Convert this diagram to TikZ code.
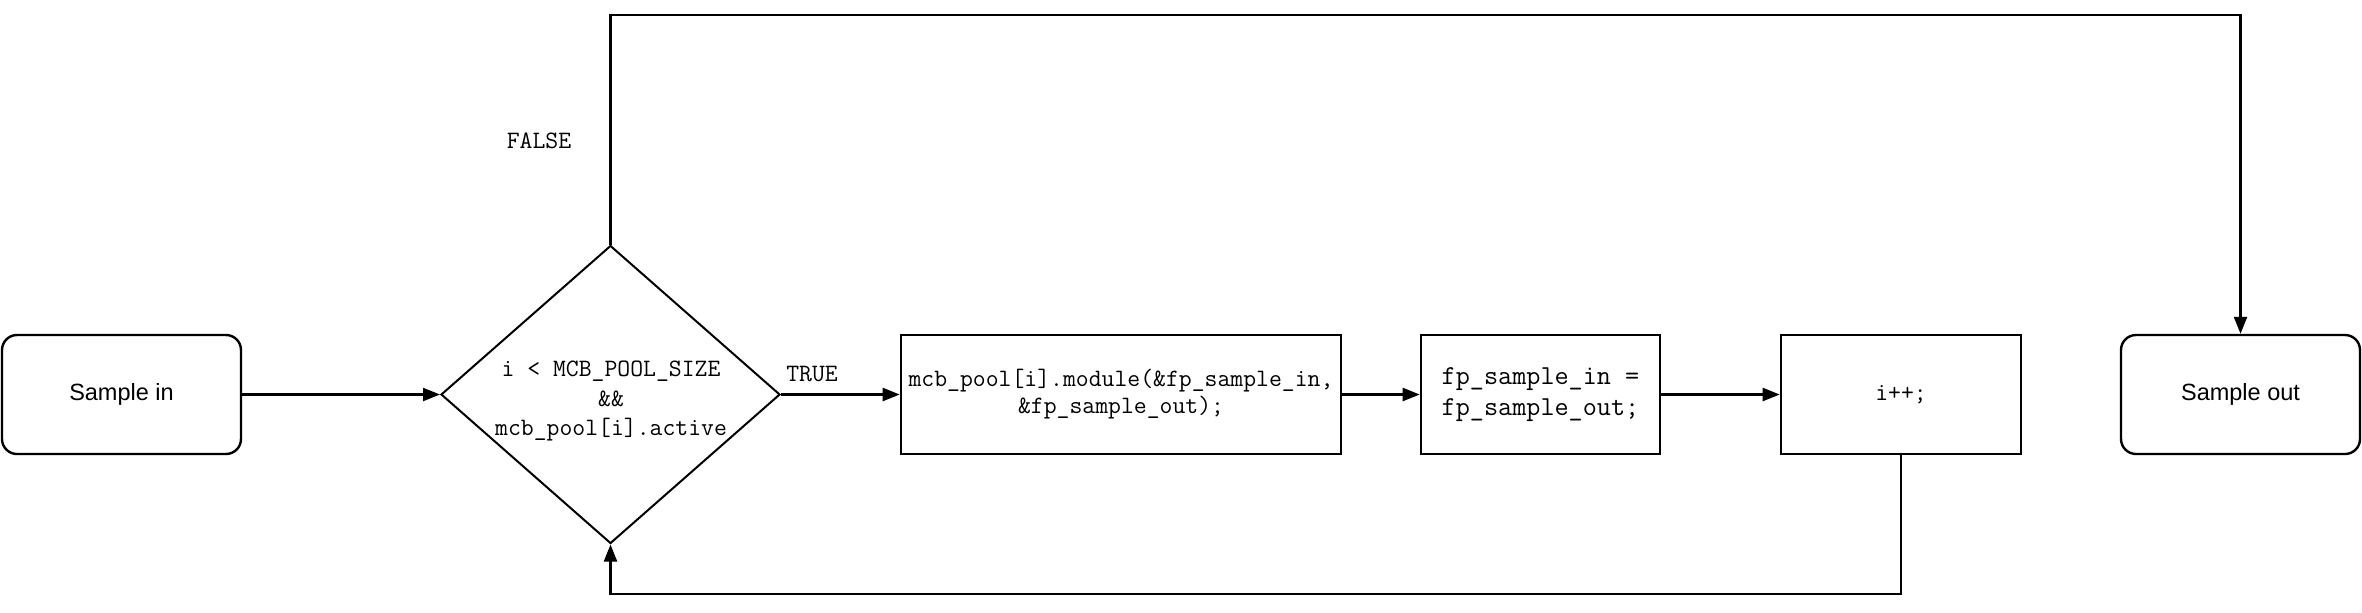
\documentclass[tikz,border=0pt]{standalone}
\usepackage{fontspec}
\setmainfont{Liberation Sans}
\usetikzlibrary{shapes.geometric,arrows.meta}
\begin{document}
\begin{tikzpicture}[x=0.5pt,y=-0.5pt,
  every node/.style={inner sep=0pt},
  termbox/.style={draw, line width=1.2pt, rounded corners=7.5pt, minimum width=119.5pt, minimum height=59.5pt, font=\fontsize{11.75}{14}\selectfont},
  procbox/.style={draw, line width=1.3pt, minimum height=59.5pt, align=center},
  decbox/.style={draw, line width=1pt, shape=diamond, minimum width=169.5pt, minimum height=149pt},
  codetxt/.style={font=\ttfamily\fontsize{12.5}{13.5}\selectfont, align=center},
  conn/.style={line width=1.1pt, -{Triangle[length=8.5pt,width=6.5pt]}},
  lbl/.style={font=\ttfamily\fontsize{12.5}{13}\selectfont}
]
\useasboundingbox (0,0) rectangle (2362,612);
\node[termbox] (sin) at (121.5,394.5) {Sample in};
\node[decbox] (dia) at (610.5,394.5) {};
\node[codetxt, font=\ttfamily\fontsize{12.5}{14.75}\selectfont] (diatext) at (611,401) {i < MCB\_POOL\_SIZE\\\&\&\\mcb\_pool[i].active};
\node[procbox, minimum width=220pt, codetxt] (box1) at (1121,394.5) {mcb\_pool[i].module(\&fp\_sample\_in,\\\&fp\_sample\_out);};
\node[procbox, minimum width=119.5pt, codetxt, font=\ttfamily\fontsize{13.7}{15.5}\selectfont] (box2) at (1540.5,394.5) {fp\_sample\_in =\\fp\_sample\_out;};
\node[procbox, minimum width=120pt, codetxt] (box3) at (1901,394.5) {i++;};
\node[termbox] (sout) at (2240.5,394.5) {Sample out};
\coordinate (ftop) at (610.5,15);
\coordinate (otop) at (2240.5,15);
\coordinate (lbot) at (1901,594);
\coordinate (dbot) at (610.5,594);
\draw[conn] (sin.east) -- (dia.west);
\draw[conn] (dia.east) -- (box1.west);
\draw[conn] (box1.east) -- (box2.west);
\draw[conn] (box2.east) -- (box3.west);
\draw[conn] (dia.north) -- (ftop) -- (otop) -- (sout.north);
\draw[conn] (box3.south) -- (lbot) -- (dbot) -- (dia.south);
\node[lbl] (truelbl) at (812,374) {TRUE};
\node[lbl] (falselbl) at (539,141) {FALSE};
\end{tikzpicture}
\end{document}
